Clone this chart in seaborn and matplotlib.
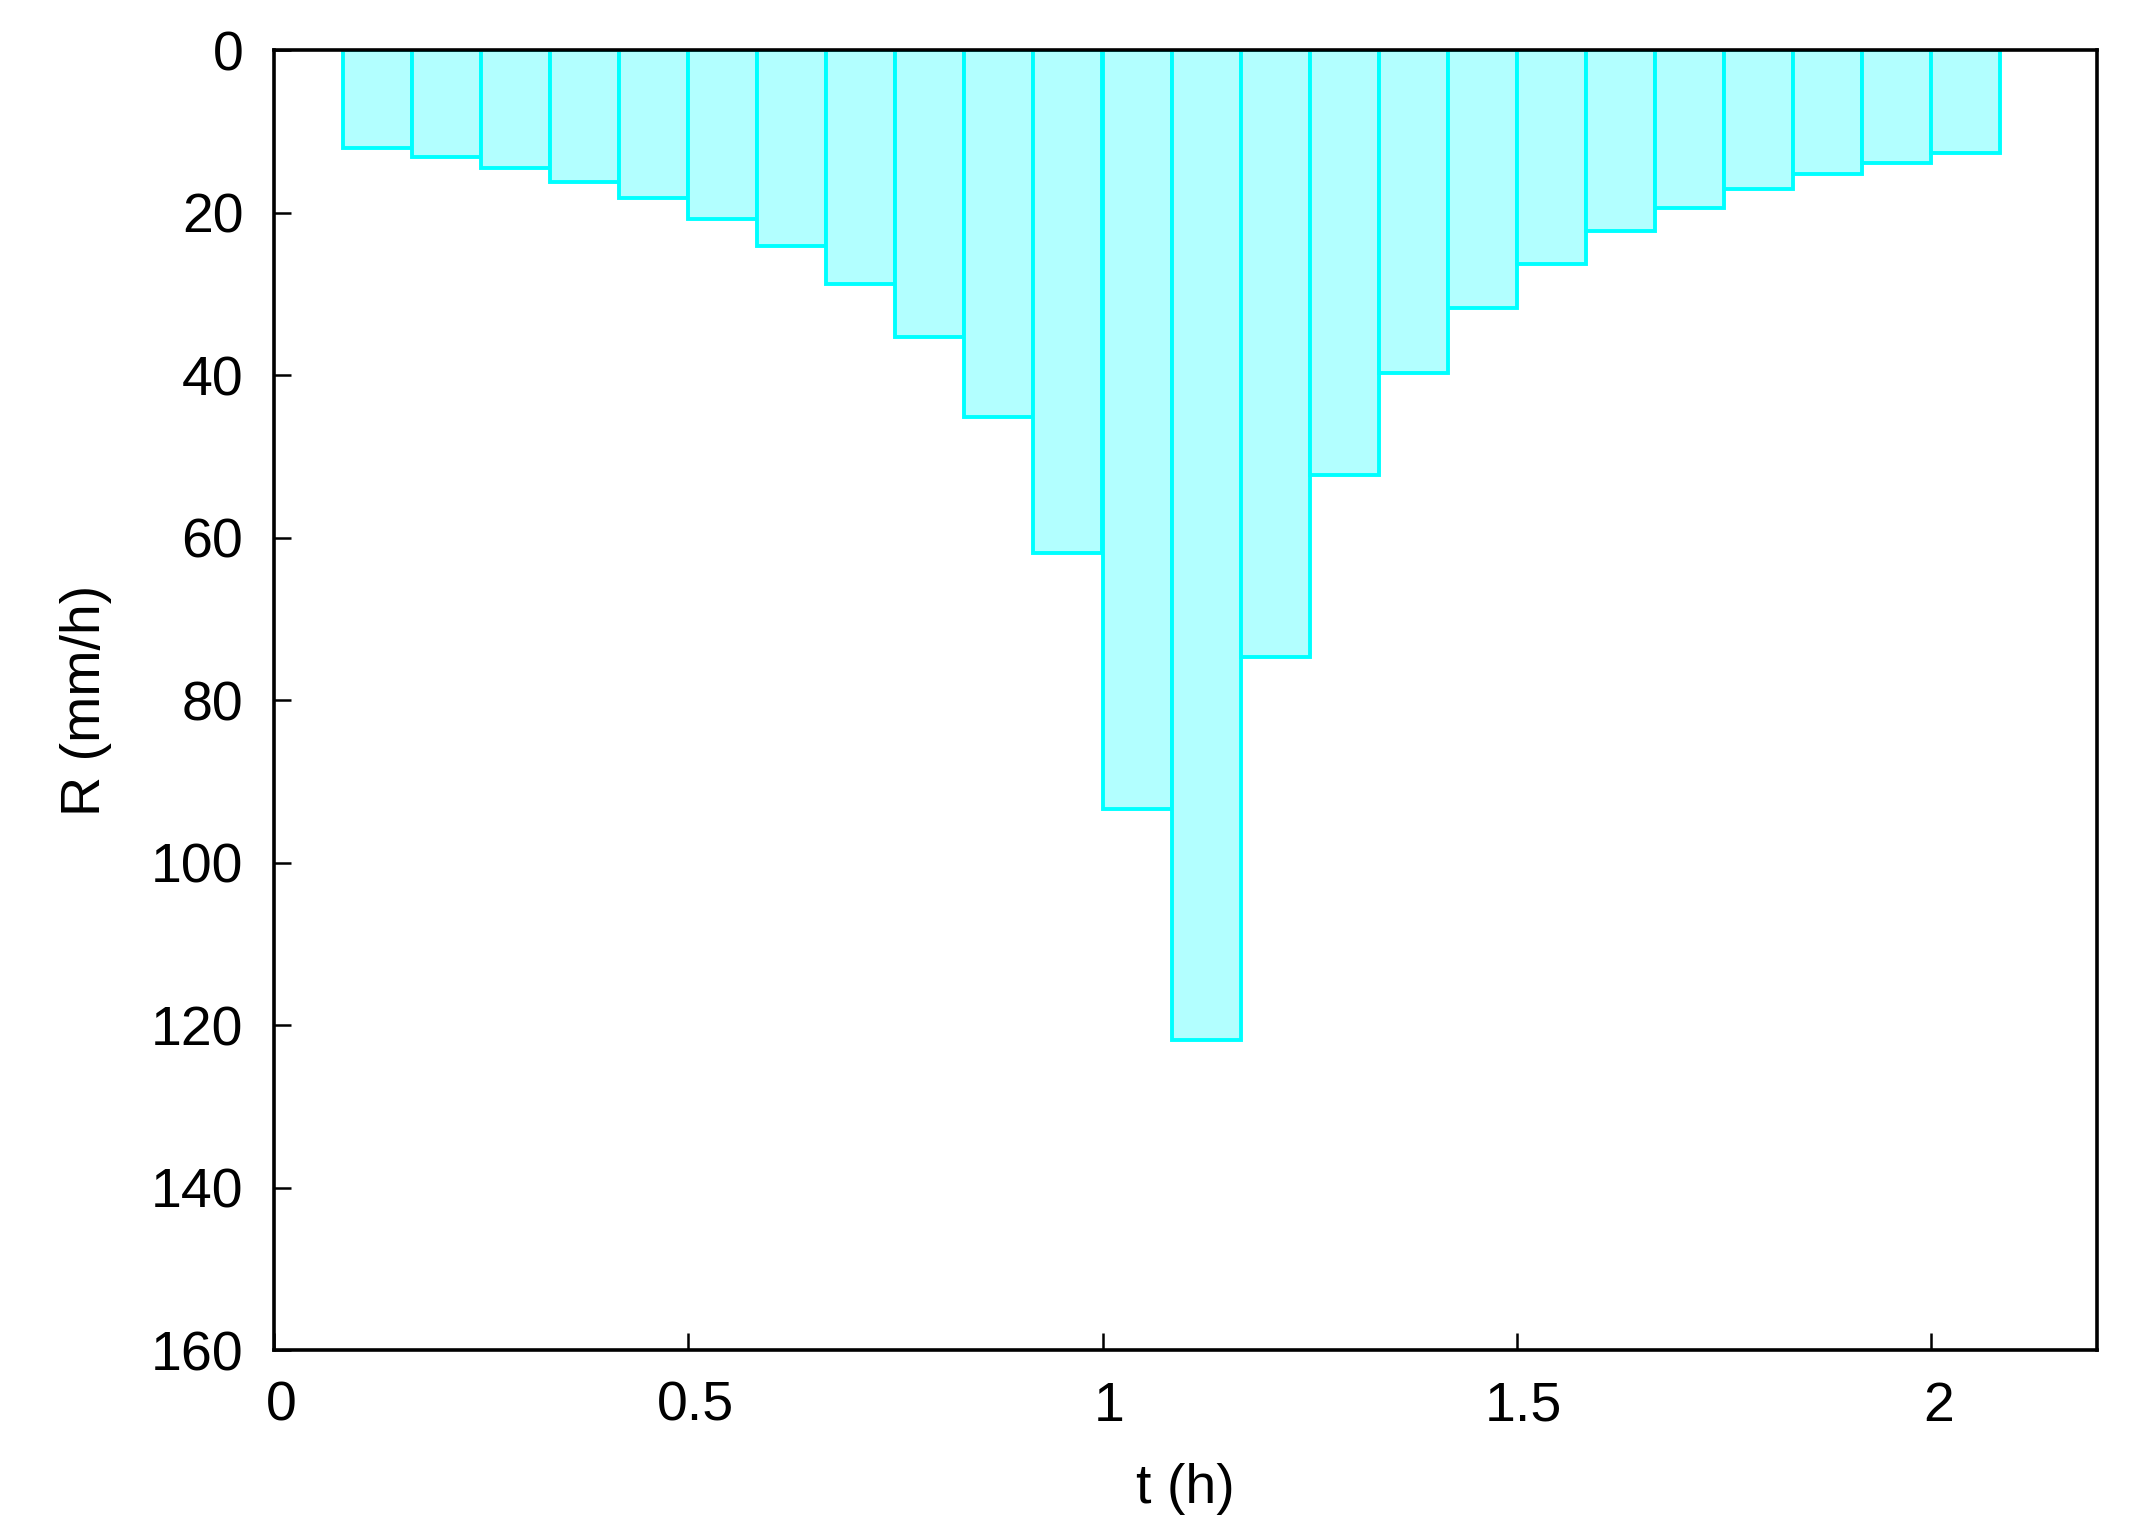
import numpy as np
import pandas as pd
import matplotlib
matplotlib.use("Agg")
import matplotlib.pyplot as plt
import matplotlib.transforms as mtransforms
import seaborn as sns

# Dados: intervalos de 5 min, centro de cada intervalo (h) e intensidade (mm/h)
t_centro = [0.125, 0.2083, 0.2917, 0.375, 0.4583, 0.5417, 0.625, 0.7083,
            0.7917, 0.875, 0.9583, 1.0417, 1.125, 1.2083, 1.2917, 1.375,
            1.4583, 1.5417, 1.625, 1.7083, 1.7917, 1.875, 1.9583, 2.0417]
intensidade = [12.0, 13.2, 14.5, 16.2, 18.2, 20.8, 24.1, 28.8,
               35.3, 45.2, 61.9, 93.4, 121.8, 74.7, 52.3, 39.8,
               31.7, 26.3, 22.3, 19.4, 17.1, 15.3, 13.9, 12.7]
xticks = [0, 0.5, 1, 1.5, 2]
xtick_labels = ["0", "0.5", "1", "1.5", "2"]
yticks = [0, 20, 40, 60, 80, 100, 120, 140, 160]

df = pd.DataFrame({"t": t_centro, "R": intensidade})

sns.set_theme(style="ticks")
plt.rcParams["font.family"] = ["Liberation Sans", "DejaVu Sans"]
plt.rcParams["xtick.direction"] = "in"
plt.rcParams["ytick.direction"] = "in"
plt.rcParams["text.color"] = "black"
plt.rcParams["axes.labelcolor"] = "black"

fig = plt.figure(figsize=(21.56, 15.36), dpi=100)
ax = fig.add_axes([0.127, 0.121, 0.8456, 0.8464])

sns.barplot(data=df, x="t", y="R", native_scale=True, width=1.0,
            errorbar=None, saturation=1, color="#b2ffff",
            edgecolor="#00ffff", linewidth=2.8, ax=ax)

ax.set_xlim(0, 2.2)
ax.set_ylim(160, 0)
ax.set_xticks(xticks)
ax.set_xticklabels(xtick_labels)
ax.set_yticks(yticks)
ax.tick_params(axis="both", labelsize=40, length=12, width=1.8,
               colors="black", labelcolor="black")
ax.tick_params(axis="x", pad=22)
ax.tick_params(axis="y", pad=22)
for s in ax.spines.values():
    s.set_linewidth(2.6)
    s.set_color("black")

# leve deslocamento dos rótulos do eixo x para a direita (estilo gnuplot)
offset = mtransforms.ScaledTranslation(7 / 100, 0, fig.dpi_scale_trans)
for lbl in ax.get_xticklabels():
    lbl.set_transform(lbl.get_transform() + offset)

ax.set_xlabel("t (h)", fontsize=40, labelpad=22, color="black")
ax.set_ylabel("R (mm/h)", fontsize=40, labelpad=28, color="black")

fig.savefig("out.png", dpi=100)
